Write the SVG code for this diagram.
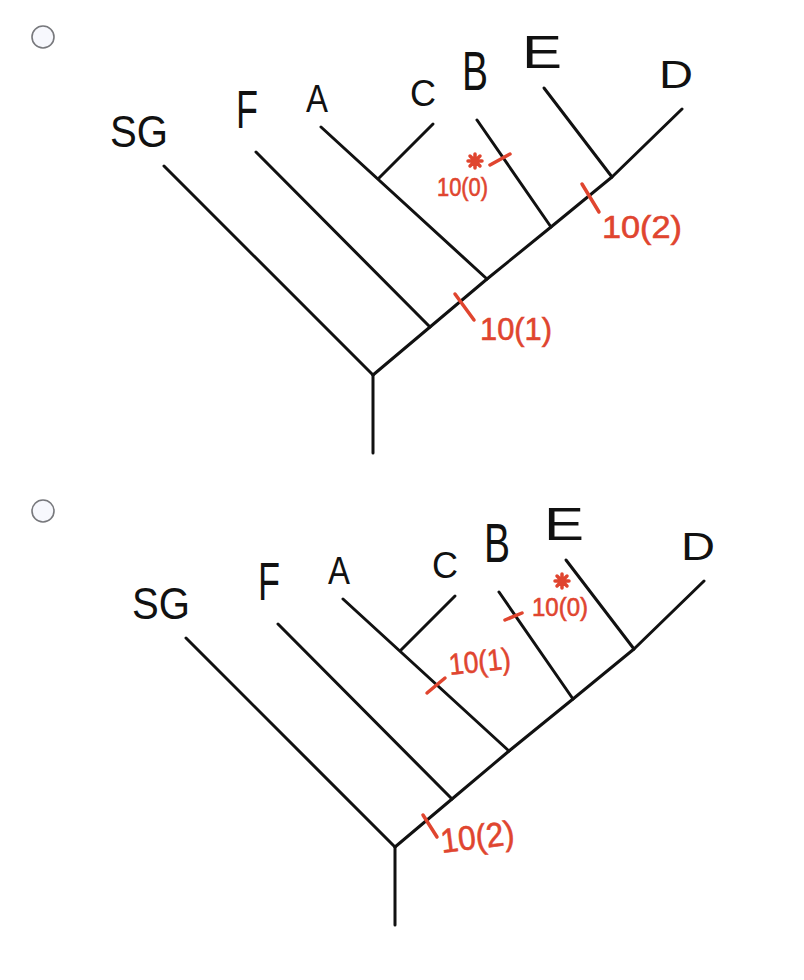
<svg xmlns="http://www.w3.org/2000/svg" xmlns:xlink="http://www.w3.org/1999/xlink" width="804" height="980" viewBox="0 0 804 980">
<style>
.br{fill:none;stroke:#111;stroke-width:3;stroke-linecap:round;stroke-linejoin:round}
.lbl{font-family:"Liberation Sans",Arial,sans-serif;fill:#111}
.red{font-family:"Liberation Sans",Arial,sans-serif;fill:#e0452f;stroke:#e0452f;stroke-width:0.6}
.tick{fill:none;stroke:#e0452f;stroke-width:3.5;stroke-linecap:round}
.radio{fill:#f7f8fd;stroke:#77787c;stroke-width:1.6}
</style>
<rect width="804" height="980" fill="#ffffff"/>
<circle class="radio" cx="43" cy="37" r="11"/>
<circle class="radio" cx="43" cy="511" r="11"/>
<defs>
<g id="treeLines">
<path class="br" d="M373,375 V453"/>
<path class="br" d="M164,166 L373,375"/>
<path class="br" d="M373,375 L430,327 L487,279 L551,227 L612,177 L682,109"/>
<path class="br" d="M256,152 L430,327"/>
<path class="br" d="M321,127 L487,279"/>
<path class="br" d="M433,124 L379,178"/>
<path class="br" d="M477,120 L551,227"/>
<path class="br" d="M544,88 L612,177"/>
</g>
<g id="treeLabels">
<text class="lbl" x="110" y="147" font-size="44" textLength="58" lengthAdjust="spacingAndGlyphs">SG</text>
<text class="lbl" x="236" y="128" font-size="54" textLength="22" lengthAdjust="spacingAndGlyphs">F</text>
<text class="lbl" x="306" y="112" font-size="38" textLength="22" lengthAdjust="spacingAndGlyphs">A</text>
<text class="lbl" x="410" y="106" font-size="36" textLength="26" lengthAdjust="spacingAndGlyphs">C</text>
<text class="lbl" x="462" y="90" font-size="55" textLength="26" lengthAdjust="spacingAndGlyphs">B</text>
<text class="lbl" x="522" y="68" font-size="47" textLength="40" lengthAdjust="spacingAndGlyphs">E</text>
<text class="lbl" x="659" y="88" font-size="39" textLength="34" lengthAdjust="spacingAndGlyphs">D</text>
</g>
<g id="star">
<path class="tick" stroke-width="2.8" d="M-7,0 H7 M0,-7 V7 M-5,-5 L5,5 M-5,5 L5,-5"/>
</g>
</defs>
<g id="connectors">
<use id="tree1-branches" xlink:href="#treeLines"/>
<use id="tree2-branches" xlink:href="#treeLines" transform="translate(22,472)"/>
</g>
<g id="tree1-labels"><use xlink:href="#treeLabels"/></g>
<g id="tree2-labels"><use xlink:href="#treeLabels" transform="translate(22,472)"/></g>
<g id="tree1-marks">
<path class="tick" d="M490,165 L510,154"/>
<use xlink:href="#star" transform="translate(475,161)"/>
<text class="red" x="437" y="196" font-size="25" textLength="51" lengthAdjust="spacingAndGlyphs">10(0)</text>
<path class="tick" d="M582,184 L599,212"/>
<text class="red" x="602" y="238" font-size="32" textLength="80" lengthAdjust="spacingAndGlyphs">10(2)</text>
<path class="tick" d="M455,294 L474,320"/>
<text class="red" x="480" y="340" font-size="32" textLength="72" lengthAdjust="spacingAndGlyphs">10(1)</text>
</g>
<g id="tree2-marks">
<path class="tick" d="M505,620 L522,613"/>
<use xlink:href="#star" transform="translate(562,581)"/>
<text class="red" x="532" y="616" font-size="26" textLength="56" lengthAdjust="spacingAndGlyphs">10(0)</text>
<path class="tick" d="M427,693 L445,678"/>
<text class="red" x="450" y="675" font-size="30" textLength="62" lengthAdjust="spacingAndGlyphs" transform="rotate(-6 450 675)">10(1)</text>
<path class="tick" d="M423,815 L437,837"/>
<text class="red" x="442" y="853" font-size="34" textLength="74" lengthAdjust="spacingAndGlyphs" transform="rotate(-7 442 853)">10(2)</text>
</g>
</svg>
